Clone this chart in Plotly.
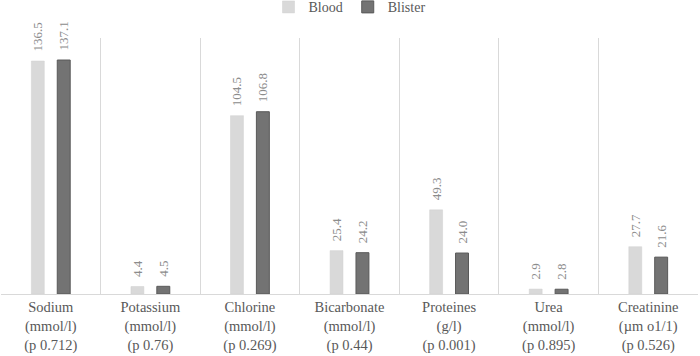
import plotly.graph_objects as go

categories = [
    "Sodium<br>(mmol/l)<br>(p 0.712)",
    "Potassium<br>(mmol/l)<br>(p 0.76)",
    "Chlorine<br>(mmol/l)<br>(p 0.269)",
    "Bicarbonate<br>(mmol/l)<br>(p 0.44)",
    "Proteines<br>(g/l)<br>(p 0.001)",
    "Urea<br>(mmol/l)<br>(p 0.895)",
    "Creatinine<br>(µm o1/1)<br>(p 0.526)",
]
blood = [136.5, 4.4, 104.5, 25.4, 49.3, 2.9, 27.7]
blister = [137.1, 4.5, 106.8, 24.2, 24.0, 2.8, 21.6]

FONT = "Liberation Serif"
PAD = "\u00a0\u00a0"

fig = go.Figure()
fig.add_trace(go.Bar(
    name="Blood", x=categories, y=blood,
    marker=dict(color="#d9d9d9", line=dict(color="#d0d0d0", width=0.5)),
    text=[f"{PAD}{v:.1f}" for v in blood], textposition="outside", textangle=-90,
    constraintext="none",
    textfont=dict(family=FONT, size=13, color="#8c8c8c"), cliponaxis=False,
))
fig.add_trace(go.Bar(
    name="Blister", x=categories, y=blister,
    marker=dict(color="#737373", line=dict(color="#595959", width=1)),
    text=[f"{PAD}{v:.1f}" for v in blister], textposition="outside", textangle=-90,
    constraintext="none",
    textfont=dict(family=FONT, size=13, color="#8c8c8c"), cliponaxis=False,
))

fig.update_layout(
    width=700, height=356,
    margin=dict(l=1, r=2, t=38, b=62, autoexpand=False),
    paper_bgcolor="white", plot_bgcolor="white",
    barmode="group", bargap=0.48, bargroupgap=0.5,
    font=dict(family=FONT, color="#595959"),
    legend=dict(orientation="h", x=0.5, xanchor="center", y=1.12, yanchor="middle",
                font=dict(family=FONT, size=14, color="#595959"),
                itemwidth=30, traceorder="normal"),
    showlegend=True,
)
fig.update_xaxes(
    tickson="boundaries", ticks="", showgrid=True, gridcolor="#d9d9d9", gridwidth=1,
    showline=True, linecolor="#d9d9d9", linewidth=1, automargin=False,
    tickfont=dict(family=FONT, size=14.5, color="#595959"),
)
fig.update_yaxes(range=[0, 150], showgrid=False, showticklabels=False, zeroline=False,
                 automargin=False)

fig.write_html("out.html",
               config={"displayModeBar": False},
               post_script="document.body.style.margin='0';document.body.style.padding='0';")
